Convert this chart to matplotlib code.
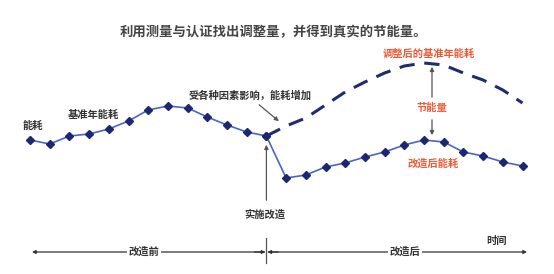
import numpy as np
import matplotlib
matplotlib.use('Agg')
import matplotlib.pyplot as plt

plt.rcParams['font.family'] = ['Noto Sans CJK SC', 'DejaVu Sans']

# ------------------ Data ------------------
# time index of each reading, energy use
pre_t = list(range(0, 13))
pre_energy = [60, 56, 64, 66, 71, 79, 90, 94, 92, 83, 75, 68, 64]

post_t = list(range(12, 26))
post_energy = [64, 22, 25, 33, 37, 43, 48, 55, 60, 58, 48, 44, 38, 34]

adj_t = list(range(12, 26))
adj_energy = [64, 74, 82, 95, 108, 118, 127, 134, 137, 135, 127, 120, 110, 97]

retrofit_t = 12

title = '利用测量与认证找出调整量，并得到真实的节能量。'

# ------------------ Layout helpers ------------------
W, H = 554, 274
X0, DX = 30, 19.7   # pixel x of t=0, pixels per step
Y0 = 200            # pixel y of energy 0


def P(x, y):
    # pixel position -> data position (for placing notes)
    return ((x - X0) / DX, Y0 - y)


fig = plt.figure(figsize=(W / 100, H / 100), dpi=100)
ax = fig.add_axes([0, 0, 1, 1])
ax.set_xlim(-X0 / DX, (W - X0) / DX)
ax.set_ylim(Y0 - H, Y0)
ax.axis('off')

line_blue = '#4a66c4'
mark_blue = '#1c2672'
red = '#ef5a36'
grey = '#333333'
arrow_grey = '#555555'

# ------------------ Series ------------------
ax.plot(adj_t, adj_energy, color='#1f2d6e', lw=2.2, dashes=(5, 3.2),
        solid_capstyle='butt', zorder=2)
ax.plot(pre_t, pre_energy, color=line_blue, lw=1.2, marker='D', ms=3.6,
        mfc=mark_blue, mec=mark_blue, zorder=3)
ax.plot(post_t, post_energy, color=line_blue, lw=1.2, marker='D', ms=3.6,
        mfc=mark_blue, mec=mark_blue, zorder=3)

# ------------------ Notes ------------------
txt = dict(fontsize=7.4, fontweight='bold', ha='center', va='center')
ax.text(*P(W / 2 - 4, 32), title, color='#444444', fontsize=9.6,
        fontweight='bold', ha='center', va='center')
ax.text(*P(33, 126), '能耗', color=grey, **txt)
ax.text(*P(93, 115), '基准年能耗', color=grey, **txt)
ax.text(*P(250, 96), '受各种因素影响，能耗增加', color=grey, **txt)
ax.text(*P(429, 54), '调整后的基准年能耗', color=red, **txt)
ax.text(*P(432, 108), '节能量', color=red, **txt)
ax.text(*P(433, 164), '改造后能耗', color=red, **txt)
ax.text(*P(265, 215), '实施改造', color=grey, **txt)

ax.annotate('', xy=P(281, 123), xytext=P(257, 103),
            arrowprops=dict(arrowstyle='-|>', color=arrow_grey, lw=0.9,
                            mutation_scale=6))
ax.annotate('', xy=(retrofit_t, P(0, 142)[1]), xytext=(retrofit_t, P(0, 203)[1]),
            arrowprops=dict(arrowstyle='-|>', color=arrow_grey, lw=0.9,
                            mutation_scale=6))
# savings arrows above and below the label
ax.annotate('', xy=P(432, 64), xytext=P(432, 100),
            arrowprops=dict(arrowstyle='-|>', color=arrow_grey, lw=0.9,
                            mutation_scale=6))
ax.annotate('', xy=P(432, 138), xytext=P(432, 117),
            arrowprops=dict(arrowstyle='-|>', color=arrow_grey, lw=0.9,
                            mutation_scale=6))

# ------------------ Time axis ------------------
ay = P(0, 252)[1]
ax.annotate('', xy=(P(32, 0)[0], ay), xytext=(retrofit_t - 0.1, ay),
            arrowprops=dict(arrowstyle='-|>', color=grey, lw=0.9,
                            mutation_scale=5, shrinkA=0, shrinkB=0))
ax.annotate('', xy=(P(527, 0)[0], ay), xytext=(retrofit_t + 0.1, ay),
            arrowprops=dict(arrowstyle='-|>', color=grey, lw=0.9,
                            mutation_scale=5, shrinkA=0, shrinkB=0))
ax.annotate('', xy=(retrofit_t - 0.05, ay), xytext=(retrofit_t - 0.6, ay),
            arrowprops=dict(arrowstyle='-|>', color=grey, lw=0.9,
                            mutation_scale=5, shrinkA=0, shrinkB=0))
ax.annotate('', xy=(retrofit_t + 0.05, ay), xytext=(retrofit_t + 0.6, ay),
            arrowprops=dict(arrowstyle='-|>', color=grey, lw=0.9,
                            mutation_scale=5, shrinkA=0, shrinkB=0))
ax.plot([retrofit_t, retrofit_t], [P(0, 238)[1], P(0, 263)[1]],
        color=arrow_grey, lw=0.9)

box = dict(facecolor='white', edgecolor='none', pad=1.5)
ax.text(*P(144, 252), '改造前', color=grey, bbox=box, **txt)
ax.text(*P(405, 252), '改造后', color=grey, bbox=box, **txt)
ax.text(*P(497, 241), '时间', color=grey, **txt)

fig.savefig('out.png', dpi=100, facecolor='white')
